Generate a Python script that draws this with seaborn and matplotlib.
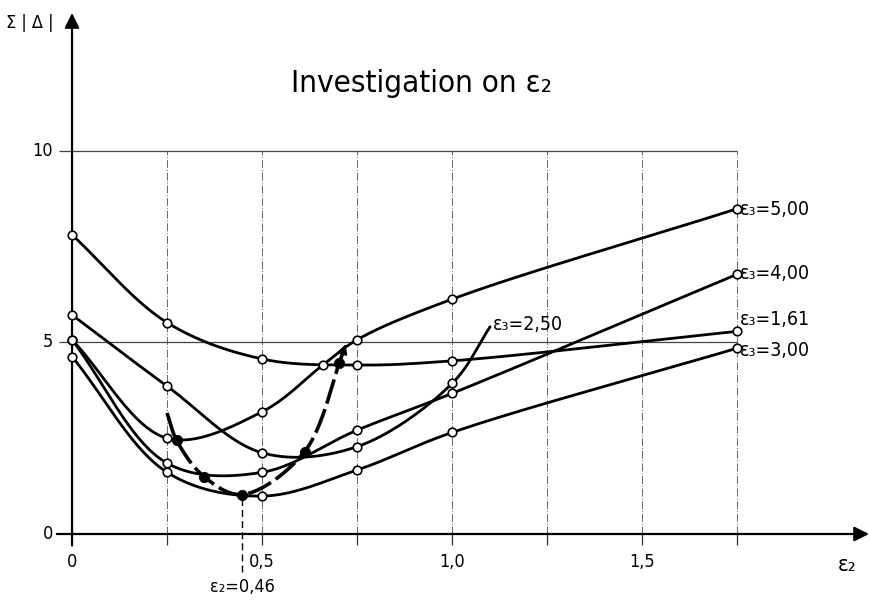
import numpy as np
import pandas as pd
import matplotlib
matplotlib.use("Agg")
import matplotlib.pyplot as plt
import seaborn as sns

eps2_pts = [0.0, 0.25, 0.5, 0.75, 1.0, 1.75]
eps2_500 = [0.0, 0.25, 0.5, 0.66, 0.75, 1.0, 1.75]
eps2_250 = [0.0, 0.25, 0.5, 0.75, 1.0]

sum_161 = [7.81, 5.52, 4.57, 4.41, 4.52, 5.29]
sum_250 = [5.72, 3.86, 2.12, 2.28, 3.93]
sum_300 = [4.63, 1.61, 0.99, 1.67, 2.65, 4.85]
sum_400 = [5.07, 1.85, 1.61, 2.71, 3.67, 6.78]
sum_500 = [5.07, 2.50, 3.19, 4.41, 5.07, 6.13, 8.49]

# end of the eps3 = 2.50 curve (no marker there)
end_250 = (1.10, 5.41)

# minima of each curve (filled dots) and the ends of the dashed locus
min_eps2 = [0.275, 0.347, 0.448, 0.612, 0.703]
min_sum = [2.45, 1.50, 1.03, 2.15, 4.46]
locus_start = (0.25, 3.16)
locus_end = (0.72, 4.96)

labels = ["ε₃=5,00", "ε₃=4,00", "ε₃=1,61", "ε₃=3,00"]
label_y = [8.46, 6.81, 5.59, 4.80]

FONT = ["Liberation Sans Narrow", "DejaVu Sans"]


def smooth(xs, ys, n=40):
    # centripetal catmull-rom through the read points, only for drawing
    p = np.column_stack([np.asarray(xs, float), np.asarray(ys, float) * 0.1])
    p = np.vstack([2 * p[0] - p[1], p, 2 * p[-1] - p[-2]])
    out = []
    for i in range(1, len(p) - 2):
        p0, p1, p2, p3 = p[i - 1], p[i], p[i + 1], p[i + 2]
        t0 = 0.0
        t1 = t0 + np.linalg.norm(p1 - p0) ** 0.5
        t2 = t1 + np.linalg.norm(p2 - p1) ** 0.5
        t3 = t2 + np.linalg.norm(p3 - p2) ** 0.5
        t = np.linspace(t1, t2, n)[:, None]
        a1 = (t1 - t) / (t1 - t0) * p0 + (t - t0) / (t1 - t0) * p1
        a2 = (t2 - t) / (t2 - t1) * p1 + (t - t1) / (t2 - t1) * p2
        a3 = (t3 - t) / (t3 - t2) * p2 + (t - t2) / (t3 - t2) * p3
        b1 = (t2 - t) / (t2 - t0) * a1 + (t - t0) / (t2 - t0) * a2
        b2 = (t3 - t) / (t3 - t1) * a2 + (t - t1) / (t3 - t1) * a3
        c = (t2 - t) / (t2 - t1) * b1 + (t - t1) / (t2 - t1) * b2
        out.append(c)
    c = np.vstack(out)
    return c[:, 0], c[:, 1] * 10


sns.set_style("white")
plt.rcParams["font.family"] = FONT
plt.rcParams["font.stretch"] = "condensed"
plt.rcParams["text.color"] = "black"

fig = plt.figure(figsize=(8.69, 6.0), dpi=100)
ax = fig.add_axes([0, 0, 1, 1])
ax.set_xlim(-0.1895, 2.097)
ax.set_ylim(-1.723, 13.94)
ax.axis("off")

# grid
grid_x = np.arange(0.25, 1.76, 0.25)
ax.vlines(grid_x, 0, 10, color="#666666", lw=0.7, ls=(0, (8, 2, 1, 2)), zorder=1)
ax.vlines(grid_x, -0.3, 0, color="#333333", lw=0.9, zorder=1)
ax.hlines([5, 10], -0.035, 1.75, color="#444444", lw=0.9, zorder=1)

# axes with arrows
ax.annotate("", xy=(2.097, 0), xytext=(-0.04, 0),
            arrowprops=dict(arrowstyle="-|>", lw=1.6, color="black",
                            mutation_scale=22, shrinkA=0, shrinkB=0))
ax.annotate("", xy=(0, 13.6), xytext=(0, -0.3),
            arrowprops=dict(arrowstyle="-|>", lw=1.6, color="black",
                            mutation_scale=22, shrinkA=0, shrinkB=0))

# curves
curves = [
    (eps2_pts, sum_161),
    (eps2_250 + [end_250[0]], sum_250 + [end_250[1]]),
    (eps2_pts, sum_300),
    (eps2_pts, sum_400),
    (eps2_500, sum_500),
]
for xs, ys in curves:
    sx, sy = smooth(xs, ys)
    sns.lineplot(x=sx, y=sy, sort=False, estimator=None, color="black",
                 lw=2.0, ax=ax, zorder=3)

# locus of minima
lx, ly = smooth([locus_start[0]] + min_eps2 + [locus_end[0]],
                [locus_start[1]] + min_sum + [locus_end[1]])
sns.lineplot(x=lx[:-6], y=ly[:-6], sort=False, estimator=None, color="black",
             lw=2.6, ls=(0, (7, 1.6)), ax=ax, zorder=4)
ax.annotate("", xy=(lx[-1], ly[-1]), xytext=(lx[-8], ly[-8]),
            arrowprops=dict(arrowstyle="-|>", lw=1.5, color="black",
                            mutation_scale=14, shrinkA=0, shrinkB=0))

# open circles
all_x = eps2_pts * 3 + eps2_500 + eps2_250
all_y = sum_161 + sum_300 + sum_400 + sum_500 + sum_250
sns.scatterplot(x=all_x, y=all_y, marker="o", s=38, facecolor="white",
                edgecolor="black", linewidth=1.2, ax=ax, zorder=5)
# filled dots at the minima
sns.scatterplot(x=min_eps2, y=min_sum, marker="o", s=55, color="black",
                edgecolor="black", ax=ax, zorder=6)

# eps2 = 0.46 marker
ax.vlines(min_eps2[2], -1.0, min_sum[2], color="black", lw=1.0,
          ls=(0, (5, 3)), zorder=2)
ax.text(min_eps2[2], -1.38, "ε₂=0,46", ha="center", va="center", fontsize=13)

# tick labels
for v, s in [(0, "0"), (0.5, "0,5"), (1.0, "1,0"), (1.5, "1,5")]:
    ax.text(v, -0.72, s, ha="center", va="center", fontsize=13)
for v, s in [(0, "0"), (5, "5"), (10, "10")]:
    ax.text(-0.05, v, s, ha="right", va="center", fontsize=13)

ax.text(-0.11, 13.35, "Σ | Δ |", ha="center", va="center", fontsize=13)
ax.text(2.04, -0.8, "ε₂", ha="center", va="center", fontsize=16)
ax.text(0.92, 11.75, "Investigation on ε₂", ha="center", va="center", fontsize=22.5)

for s, y in zip(labels, label_y):
    ax.text(1.758, y, s, ha="left", va="center", fontsize=14)
ax.text(end_250[0] + 0.008, end_250[1] + 0.05, "ε₃=2,50", ha="left",
        va="center", fontsize=14)

fig.savefig("out.png", dpi=100)
